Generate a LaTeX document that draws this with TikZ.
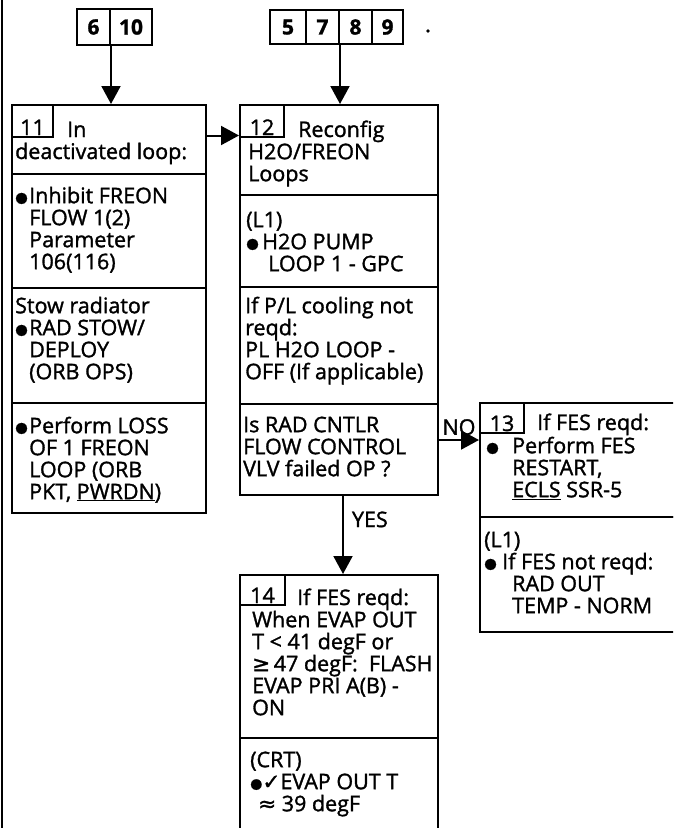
\documentclass[tikz,border=0pt]{standalone}
\usepackage{fontspec}
\setmainfont{Open Sans}[FakeBold=1.4]
\newfontfamily\symf{DejaVu Sans}[FakeBold=1.2]
\usetikzlibrary{arrows.meta,fit}
\newcommand{\bl}[1]{\makebox[#1][l]{\raisebox{1pt}{\symf\fontsize{14.5}{14.5}\selectfont ●}}}
\newcommand{\lead}{\rule{0pt}{18pt}}
\begin{document}
\begin{tikzpicture}[x=1pt,y=-1pt,
  box/.style={draw, line width=2pt, inner sep=0pt},
  txt/.style={anchor=north west, inner sep=0pt, align=left, font=\fontsize{21.5}{22}\selectfont},
  one/.style={anchor=base west, inner sep=0pt, font=\fontsize{21.5}{22}\selectfont},
  num/.style={anchor=base, inner sep=0pt, font=\fontsize{21.5}{22}\selectfont},
  topnum/.style={anchor=center, inner sep=0pt, font=\bfseries\fontsize{21}{22}\selectfont},
  lab/.style={inner sep=0pt, font=\fontsize{21.5}{22}\selectfont},
  arr/.style={line width=2pt, -{Triangle[length=18pt,width=19pt]}}]
\useasboundingbox (0,0) rectangle (673,828);
\clip (0,0) rectangle (673,828);
\fill[white] (0,0) rectangle (673,828);
% frame edge
\draw[line width=2pt] (1.5,0) -- (1.5,828);
% top boxes
\node[box, fit={(77,9)(110,45)}] (t6) {};
\node[box, fit={(110,9)(152,45)}] (t10) {};
\node[topnum] at (t6.center) {6};
\node[topnum] at (t10.center) {10};
\node[box, fit={(270,10)(306,44)}] (t5) {};
\node[box, fit={(306,10)(339,44)}] (t7) {};
\node[box, fit={(339,10)(372,44)}] (t8) {};
\node[box, fit={(372,10)(403,44)}] (t9) {};
\node[topnum] at (t5.center) {5};
\node[topnum] at (t7.center) {7};
\node[topnum] at (t8.center) {8};
\node[topnum] at (t9.center) {9};
\fill (428,31) circle (1.8);
% box 11
\node[box, fit={(12,105)(206,174)}] (b11a) {};
\node[box, fit={(12,174)(206,288)}] (b11b) {};
\node[box, fit={(12,288)(206,403)}] (b11c) {};
\node[box, fit={(12,403)(206,513)}] (b11d) {};
\node[box, fit={(12,105)(53,137)}] (tab11) {};
\node[num] at (32.5,135) {11};
\node[one] at (67,137) {In};
\node[one] at (15,159) {deactivated loop:};
\node[txt] at (15,185) {\lead\bl{14pt}Inhibit FREON\\\hspace*{14pt}FLOW 1(2)\\\hspace*{14pt}Parameter\\\hspace*{14pt}106(116)};
\node[txt] at (15,295) {\lead Stow radiator\\\bl{14pt}RAD STOW/\\\hspace*{14pt}DEPLOY\\\hspace*{14pt}(ORB OPS)};
\node[txt] at (15,415) {\lead\bl{14pt}Perform LOSS\\\hspace*{14pt}OF 1 FREON\\\hspace*{14pt}LOOP (ORB\\\hspace*{14pt}PKT, \underline{PWRDN})};
% box 12
\node[box, fit={(240,105)(438,195)}] (b12a) {};
\node[box, fit={(240,195)(438,287)}] (b12b) {};
\node[box, fit={(240,287)(438,404)}] (b12c) {};
\node[box, fit={(240,404)(438,495)}] (b12d) {};
\node[box, fit={(240,105)(284,137)}] (tab12) {};
\node[num] at (262,135) {12};
\node[one] at (298,137) {Reconfig};
\node[txt] at (248,141) {\lead H2O/FREON\\Loops};
\node[txt] at (246,209) {\lead (L1)\\\bl{16pt}H2O PUMP\\\hspace*{22pt}LOOP 1 - GPC};
\node[txt] at (245,295) {\lead If P/L cooling not\\reqd:\\PL H2O LOOP -\\OFF (If applicable)};
\node[txt] at (243,414) {\lead Is RAD CNTLR\\FLOW CONTROL\\VLV failed OP ?};
% box 13
\node[box, fit={(480,403)(700,517)}] (b13a) {};
\node[box, fit={(480,517)(700,632)}] (b13b) {};
\node[box, fit={(480,403)(524,433)}] (tab13) {};
\node[num] at (502,431) {13};
\node[one] at (537,430) {If FES reqd:};
\node[txt] at (486,435) {\lead\bl{26pt}Perform FES\\\hspace*{26pt}RESTART,\\\hspace*{26pt}\underline{ECLS} SSR-5};
\node[txt] at (484,529) {\lead (L1)\\\bl{18pt}If FES not reqd:\\\hspace*{28pt}RAD OUT\\\hspace*{28pt}TEMP - NORM};
% box 14
\node[box, fit={(240,575)(438,738)}] (b14a) {};
\node[box, fit={(240,738)(438,845)}] (b14b) {};
\node[box, fit={(240,575)(285,605)}] (tab14) {};
\node[num] at (262.5,603) {14};
\node[one] at (297,605) {If FES reqd:};
\node[txt] at (252,609) {\lead When EVAP OUT\\T < 41 degF or\\{\symf ≥}\,47 degF:\ \ FLASH\\EVAP PRI A(B) -\\ON};
\node[txt] at (250,749) {\lead (CRT)\\{\symf\fontsize{14}{14}\selectfont\raisebox{1pt}{●}}{\symf ✓}EVAP OUT T\\\hspace*{8pt}{\symf ≈} 39 degF};
% connectors
\draw[arr] (t6.south east) -- (t6.south east |- b11a.north);
\draw[arr] (t7.south east) -- (t7.south east |- b12a.north);
\draw[arr] ([yshift=4pt]b11a.east) -- ([yshift=4pt]b11a.east -| b12a.west);
\draw[arr] ([yshift=9.5pt]b12d.east) -- ([yshift=9.5pt]b12d.east -| b13a.west) node[lab, pos=0.5, above=4pt] (lno) {NO};
\draw[arr] ([xshift=4pt]b12d.south) -- ([xshift=4pt]b12d.south |- b14a.north) node[lab, pos=0.3, right=8pt] (lyes) {YES};
\end{tikzpicture}
\end{document}
